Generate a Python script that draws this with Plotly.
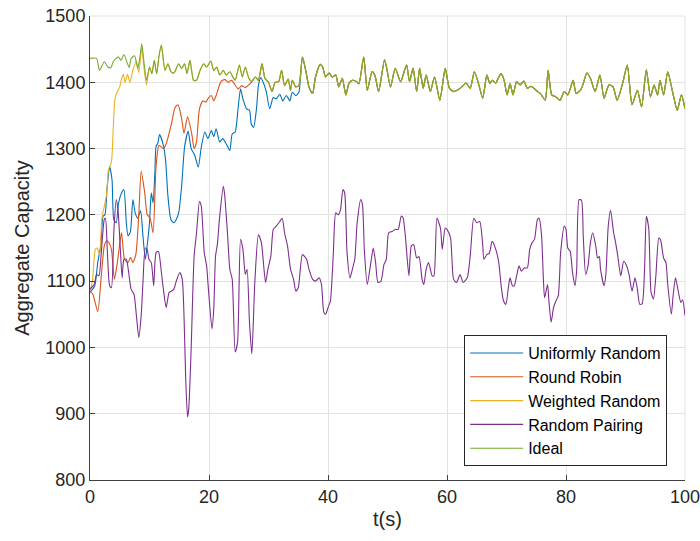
import plotly.graph_objects as go

# ---------------- data ----------------
ideal_t = [0, 1.1, 1.6, 2.4, 3.0, 3.5, 3.9, 4.4, 4.8, 5.2, 5.7, 6.3, 6.6, 6.9, 7.5, 8.0, 8.3, 8.7, 9.1, 9.5,
           10.0, 10.4, 10.8, 11.2, 11.6, 12.0, 12.6, 13.1, 13.6, 14.1, 14.9, 15.4, 15.9, 16.3, 16.8, 17.4, 17.9,
           18.5, 19.1, 19.6, 20.3, 20.8, 21.3, 21.8, 22.4, 22.9, 23.5, 24.0, 24.4, 25.1, 25.6, 26.1, 26.7,
           27.2, 27.8, 28.3, 28.9, 29.4, 30.0, 30.6, 31.1, 31.7, 32.2, 32.7, 33.3, 33.7, 34.0, 34.6, 35.1,
           35.7, 36.3, 36.8, 37.4, 37.9, 38.7, 39.1, 39.6, 40.2, 40.7, 41.3, 41.8, 42.4, 43.0, 43.5, 44.1,
           44.8, 45.2, 46.0, 46.6, 47.4, 47.9, 48.5, 49.5, 49.9, 50.5, 51.3, 52.2, 53.2, 53.7, 54.3, 54.9,
           55.4, 56.0, 56.5, 57.2, 57.9, 58.8, 59.7, 60.4, 61.1, 61.7, 62.5, 63.2, 63.9, 64.6, 65.3, 66.0,
           66.7, 67.2, 67.6, 68.2, 68.7, 69.1, 69.6, 70.1, 70.6, 71.1, 71.7, 72.3, 72.9, 73.5, 74.1, 74.6,
           75.2, 75.7, 76.5, 77.0, 77.6, 78.3, 79.0, 79.7, 80.3, 81.2, 81.7, 82.5, 82.9, 83.5, 84.1, 84.9,
           85.7, 86.4, 87.2, 87.9, 88.6, 89.5, 90.3, 91.1, 92.0, 92.7, 93.5, 94.2, 94.8, 95.4, 95.8, 96.4,
           97.1, 97.9, 98.7, 99.4, 100]
ideal_v = [1436, 1436, 1418, 1431, 1423, 1422, 1431, 1436, 1438, 1433, 1442, 1428, 1422, 1436, 1440, 1421, 1432, 1458, 1428, 1403,
           1423, 1413, 1433, 1413, 1440, 1456, 1418, 1428, 1416, 1414, 1428, 1421, 1428, 1413, 1433, 1403, 1403,
           1418, 1428, 1423, 1432, 1418, 1423, 1411, 1418, 1411, 1416, 1408, 1403, 1426, 1408, 1423, 1406,
           1401, 1408, 1403, 1428, 1406, 1400, 1386, 1400, 1401, 1418, 1395, 1405, 1388, 1403, 1393, 1395,
           1438, 1416, 1393, 1383, 1408, 1427, 1423, 1408, 1414, 1408, 1411, 1393, 1406, 1381, 1398, 1403,
           1401, 1398, 1438, 1388, 1416, 1410, 1386, 1434, 1420, 1393, 1421, 1401, 1426, 1401, 1421, 1386,
           1421, 1391, 1411, 1386, 1408, 1373, 1421, 1391, 1386, 1388, 1393, 1399, 1391, 1416, 1398, 1376,
           1411, 1398, 1403, 1399, 1408, 1413, 1403, 1381, 1398, 1381, 1401, 1396, 1402, 1391, 1394, 1391,
           1386, 1383, 1373, 1418, 1381, 1378, 1373, 1386, 1381, 1403, 1383, 1389, 1398, 1414, 1406, 1386,
           1411, 1376, 1396, 1393, 1373, 1398, 1426, 1366, 1388, 1363, 1419, 1378, 1396, 1381, 1403, 1381,
           1416, 1386, 1358, 1381, 1360]

# early (not yet converged) parts of the other schemes; afterwards they follow the ideal curve
weighted_t_early = [0, 0.4, 0.9, 1.2, 1.6, 2.0, 2.4, 2.8, 3.1, 3.6, 3.9, 4.2, 4.6, 5.0, 5.3, 5.6, 5.9,
                    6.3, 6.7, 7.2, 7.8, 8.2, 8.7, 9.1, 9.5]
weighted_v_early = [1085, 1100, 1148, 1150, 1140, 1195, 1213, 1232, 1268, 1280, 1330, 1375, 1386, 1393, 1405, 1412, 1400,
                    1412, 1400, 1418, 1432, 1415, 1452, 1420, 1396]
weighted_join_t = 10.0

robin_t_early = [0, 0.5, 1.3, 1.9, 2.4, 2.8, 3.2, 3.6, 4.1, 4.6, 5.3, 5.8, 6.4, 6.8, 7.2, 7.7, 8.2, 8.6,
                 9.2, 9.6, 10.1, 10.6, 11.1, 11.6, 12.3, 12.8, 13.7, 14.3, 14.8, 15.4, 15.8, 16.4, 17.1, 17.5,
                 17.9, 18.4, 19.0, 19.5, 19.8, 20.4, 20.8, 21.2, 21.8, 22.1, 22.7, 23.2, 23.8, 24.3, 24.9, 25.5,
                 26.1, 26.7]
robin_v_early = [1085, 1080, 1054, 1108, 1153, 1161, 1158, 1148, 1103, 1128, 1173, 1133, 1128, 1136, 1128, 1140, 1200, 1266,
                 1233, 1201, 1195, 1173, 1273, 1305, 1300, 1307, 1338, 1362, 1366, 1345, 1323, 1348, 1322, 1300,
                 1310, 1360, 1372, 1370, 1375, 1380, 1372, 1380, 1397, 1402, 1404, 1400, 1403, 1397, 1390, 1395,
                 1392, 1396]
robin_join_t = 27.2

uniform_t_early = [0, 0.8, 1.3, 1.8, 2.2, 2.5, 2.9, 3.3, 3.7, 4.0, 4.4, 4.8, 5.3, 5.7, 6.1, 6.4, 6.8, 7.2,
                   7.6, 8.0, 8.5, 8.9, 9.3, 9.6, 10.0, 10.3, 10.6, 10.9, 11.1, 11.4, 11.7, 12.3, 12.7, 13.1,
                   13.6, 14.1, 14.5, 14.9, 15.4, 15.9, 16.5, 17.0, 17.6, 18.2, 18.7, 19.3, 19.8, 20.4, 20.8,
                   21.2, 21.8, 22.3, 22.9, 23.5, 23.9, 24.4, 24.9, 25.3, 25.7, 26.3, 26.8, 27.1, 27.5, 28.0,
                   28.3, 28.7, 29.1, 29.6, 30.2, 30.8, 31.3, 31.9, 32.4, 33.0, 33.6, 34.0, 34.6, 35.1]
uniform_v_early = [1083, 1093, 1128, 1153, 1198, 1200, 1243, 1273, 1253, 1193, 1188, 1218, 1233, 1238, 1188, 1168, 1175, 1223,
                   1203, 1195, 1206, 1168, 1133, 1153, 1188, 1233, 1218, 1263, 1303, 1308, 1321, 1306, 1283, 1228,
                   1193, 1188, 1193, 1203, 1243, 1303, 1326, 1300, 1290, 1272, 1302, 1325, 1315, 1327, 1318,
                   1330, 1310, 1315, 1307, 1297, 1322, 1325, 1362, 1390, 1375, 1360, 1358, 1337, 1332, 1362,
                   1395, 1407, 1400, 1387, 1360, 1377, 1375, 1382, 1372, 1380, 1372, 1385, 1380, 1385]
uniform_join_t = 35.7

pairing_t = [0, 0.7, 1.1, 1.5, 1.9, 2.4, 2.6, 2.9, 3.3, 3.6, 4.0, 4.4, 4.7, 5.1, 5.4, 5.7, 6.1, 6.5, 6.9,
             7.4, 7.8, 8.2, 8.6, 8.9, 9.3, 9.6, 9.9, 10.3, 10.7, 11.1, 11.5, 12.0, 12.4, 12.8, 13.3, 13.7,
             14.1, 14.5, 15.1, 15.5, 15.8, 16.1, 16.4, 16.6, 17.0, 17.5, 17.9, 18.4, 18.7, 19.2, 19.6, 19.9,
             20.5, 20.8, 21.1, 21.4, 21.8, 22.4, 22.6, 23.1, 23.5, 23.9, 24.4, 24.8, 25.3, 25.7, 26.1, 26.4,
             26.8, 27.2, 27.7, 28.3, 28.8, 29.5, 29.9, 30.4, 30.8, 31.3, 31.9, 32.3, 32.7, 33.2, 33.7, 34.2,
             34.6, 35.0, 35.7, 36.4, 36.8, 37.4, 37.9, 38.5, 38.9, 39.3, 39.6, 40.0, 40.4, 40.9, 41.3, 41.7,
             42.1, 42.5, 42.8, 43.2, 43.7, 44.1, 44.5, 44.9, 45.5, 45.8, 46.1, 46.6, 47.2, 47.6, 48.0, 48.4,
             48.9, 49.4, 49.8, 50.2, 50.8, 51.3, 51.8, 52.3, 52.6, 53.0, 53.6, 54.0, 54.4, 54.9, 55.3, 55.8,
             56.1, 56.5, 56.9, 57.5, 57.8, 58.3, 58.9, 59.2, 59.7, 60.0, 60.6, 61.1, 61.6, 62.2, 62.7, 63.4,
             63.9, 64.5, 65.0, 65.5, 66.0, 66.2, 66.7, 67.1, 67.6, 68.2, 68.7, 69.1, 69.5, 69.9, 70.3, 70.6,
             71.0, 71.3, 71.7, 72.1, 72.5, 73.0, 73.5, 73.9, 74.3, 74.7, 75.2, 75.5, 75.9, 76.2, 76.4, 76.9,
             77.1, 77.5, 77.9, 78.3, 78.7, 79.1, 79.7, 80.0, 80.3, 80.7, 81.1, 81.5, 81.8, 82.2, 82.6, 82.9,
             83.3, 83.7, 84.1, 84.5, 85.0, 85.3, 85.6, 85.8, 86.4, 86.7, 87.1, 87.5, 88.0, 88.3, 88.7, 89.2,
             89.7, 90.2, 90.6, 91.1, 91.6, 92.0, 92.4, 92.8, 93.2, 93.5, 93.9, 94.3, 94.7, 95.1, 95.6, 95.9,
             96.4, 96.8, 97.1, 97.7, 98.0, 98.4, 98.8, 99.3, 99.6, 100]
pairing_v = [1088, 1095, 1110, 1108, 1143, 1193, 1195, 1148, 1093, 1090, 1173, 1223, 1208, 1148, 1105, 1133, 1133, 1113, 1088,
             1080, 1048, 1015, 1048, 1098, 1150, 1148, 1133, 1128, 1093, 1143, 1145, 1113, 1083, 1060, 1083, 1085,
             1088, 1100, 1113, 1103, 1048, 948, 895, 908, 998, 1138, 1173, 1220, 1213, 1143, 1123, 1088,
             1028, 1058, 1138, 1155, 1198, 1243, 1233, 1173, 1118, 1103, 993, 1008, 1163, 1148, 1110, 1118,
             1038, 990, 1098, 1170, 1158, 1098, 1118, 1138, 1178, 1183, 1190, 1195, 1173, 1153, 1118, 1103,
             1085, 1090, 1140, 1133, 1118, 1103, 1100, 1105, 1095, 1053, 1050, 1060, 1070, 1143, 1203, 1200,
             1208, 1238, 1233, 1143, 1105, 1118, 1133, 1188, 1223, 1215, 1148, 1095, 1128, 1150, 1128, 1098,
             1100, 1125, 1133, 1173, 1175, 1178, 1178, 1198, 1196, 1168, 1108, 1153, 1155, 1135, 1137, 1103,
             1095, 1118, 1128, 1108, 1108, 1195, 1180, 1148, 1180, 1178, 1165, 1103, 1098, 1110, 1098, 1105,
             1138, 1195, 1188, 1190, 1155, 1133, 1140, 1142, 1160, 1148, 1128, 1093, 1070, 1065, 1090, 1105,
             1093, 1093, 1108, 1123, 1115, 1120, 1120, 1148, 1158, 1163, 1193, 1195, 1168, 1103, 1075, 1095,
             1073, 1038, 1060, 1070, 1078, 1143, 1183, 1178, 1150, 1145, 1113, 1093, 1118, 1223, 1222, 1168,
             1110, 1123, 1158, 1173, 1153, 1135, 1137, 1118, 1093, 1110, 1183, 1207, 1173, 1160, 1138, 1108,
             1130, 1123, 1110, 1085, 1105, 1088, 1065, 1066, 1118, 1198, 1180, 1083, 1073, 1108, 1165, 1162,
             1135, 1128, 1095, 1050, 1078, 1105, 1088, 1068, 1072, 1048]

names = ["Uniformly Random", "Round Robin", "Weighted Random", "Random Pairing", "Ideal"]
colors = ["#0072BD", "#D95319", "#EDB120", "#7E2F8E", "#77AC30"]

x_ticks = [0, 20, 40, 60, 80, 100]
y_ticks = [800, 900, 1000, 1100, 1200, 1300, 1400, 1500]


def joined(t_early, v_early, join_t):
    i = ideal_t.index(join_t)
    return t_early + ideal_t[i:], v_early + ideal_v[i:]


series = [
    joined(uniform_t_early, uniform_v_early, uniform_join_t),
    joined(robin_t_early, robin_v_early, robin_join_t),
    joined(weighted_t_early, weighted_v_early, weighted_join_t),
    (pairing_t, pairing_v),
    (ideal_t, ideal_v),
]

# ---------------- figure ----------------
FONT = "Liberation Sans, Arial, Helvetica, sans-serif"
TXT = "#262626"
GRID = "#e2e2e2"
AXIS = "#404040"

fig = go.Figure()
for (tx, vy), name, col in zip(series, names, colors):
    fig.add_trace(go.Scatter(
        x=tx, y=vy, mode="lines", name=name,
        line=dict(color=col, width=1.1, shape="spline", smoothing=0.6),
    ))

fig.update_layout(
    width=700, height=541,
    margin=dict(l=90, r=15, t=16, b=61, autoexpand=False),
    paper_bgcolor="white", plot_bgcolor="white",
    font=dict(family=FONT, color=TXT, size=18),
    showlegend=True,
    legend=dict(
        x=0.97, y=0.03, xanchor="right", yanchor="bottom",
        bgcolor="white", bordercolor=TXT, borderwidth=1,
        font=dict(family=FONT, size=16, color="#000000"),
        tracegroupgap=0, itemwidth=53,
    ),
    shapes=[
        # grid lines along the top and right edges of the plot area (as in the reference)
        dict(type="line", xref="paper", yref="paper", x0=0, x1=1, y0=1, y1=1,
             line=dict(color=GRID, width=1), layer="below"),
        dict(type="line", xref="paper", yref="paper", x0=1, x1=1, y0=0, y1=1,
             line=dict(color=GRID, width=1), layer="below"),
    ],
)
fig.update_xaxes(
    range=[0, 100], tickvals=x_ticks, ticks="inside", ticklen=5, tickcolor=AXIS,
    showline=True, linecolor=AXIS, linewidth=1, ticklabeloverflow="allow", automargin=False,
    showgrid=True, gridcolor=GRID, gridwidth=1, zeroline=False,
    tickfont=dict(size=18, color=TXT),
    title=dict(text="t(s)", font=dict(size=20, color=TXT), standoff=6),
)
fig.update_yaxes(
    range=[800, 1500], tickvals=y_ticks, ticks="inside", ticklen=5, tickcolor=AXIS,
    showline=True, linecolor=AXIS, linewidth=1, ticklabeloverflow="allow", automargin=False,
    showgrid=True, gridcolor=GRID, gridwidth=1, zeroline=False,
    tickfont=dict(size=18, color=TXT),
    title=dict(text="Aggregate Capacity", font=dict(size=20, color=TXT), standoff=10),
)

fig.write_html("out.html")
